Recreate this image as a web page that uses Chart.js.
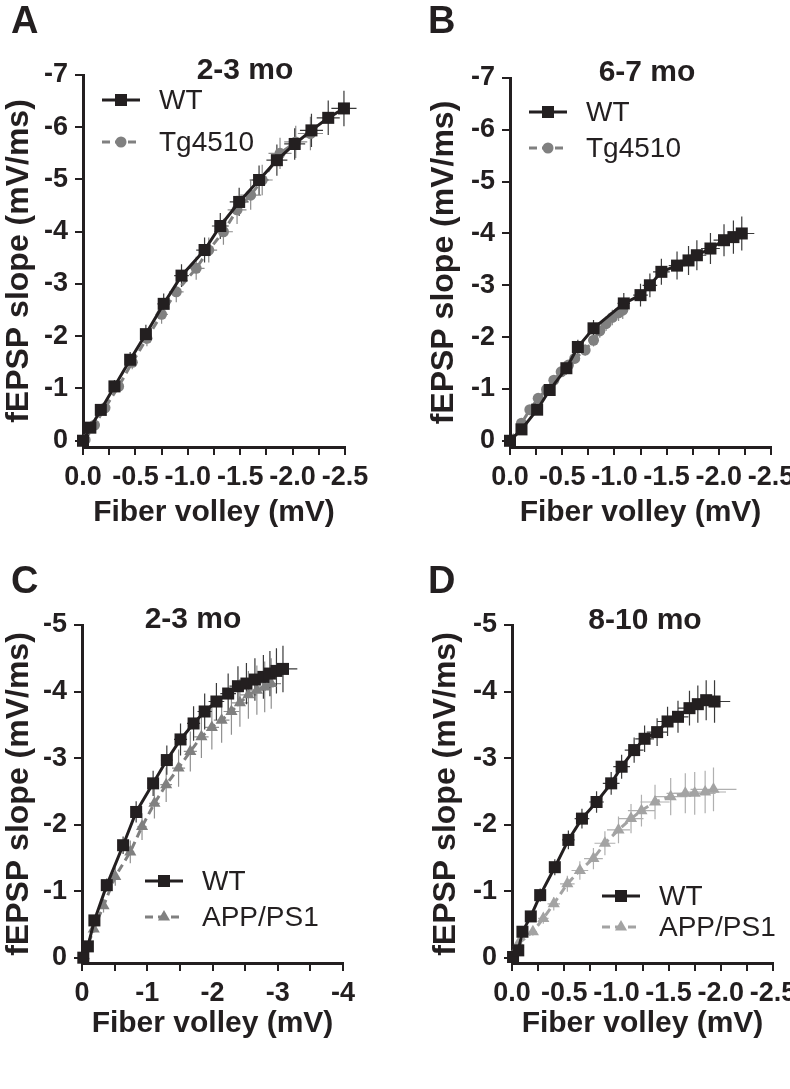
<!DOCTYPE html>
<html>
<head>
<meta charset="utf-8">
<script src="https://cdn.jsdelivr.net/npm/chart.js@4/dist/chart.umd.min.js"></script>
<style>
  html, body { margin: 0; padding: 0; background: #fff; }
  #wrap { position: relative; width: 790px; height: 1089px; background: #fff; overflow: hidden; }
  canvas { position: absolute; }
</style>
</head>
<body>
<div id="wrap">
  <canvas id="cA" style="left:0px;top:0px;width:395px;height:545px" width="395" height="545"></canvas>
  <canvas id="cB" style="left:395px;top:0px;width:395px;height:545px" width="395" height="545"></canvas>
  <canvas id="cC" style="left:0px;top:545px;width:395px;height:511px" width="395" height="511"></canvas>
  <canvas id="cD" style="left:395px;top:545px;width:395px;height:511px" width="395" height="511"></canvas>
</div>
<script>
// ---- data (fiber volley in mV, fEPSP slope in mV/ms, with SEM) ----
const panelTitles = ['2-3 mo', '6-7 mo', '2-3 mo', '8-10 mo']
const panelLetters = ['A', 'B', 'C', 'D']
const seriesNames = ['WT', 'Tg4510', 'APP/PS1']

const xLabelsHalf = ['0.0', '-0.5', '-1.0', '-1.5', '-2.0', '-2.5']
const xLabelsInt = ['0', '-1', '-2', '-3', '-4']
const yLabels = ['0', '-1', '-2', '-3', '-4', '-5', '-6', '-7']

// A: 2-3 mo, WT vs Tg4510
const aWtX = [0, -0.07, -0.17, -0.30, -0.45, -0.60, -0.77, -0.94, -1.16, -1.31, -1.49, -1.68, -1.85, -2.02, -2.18, -2.34, -2.49]
const aWtY = [0, -0.25, -0.59, -1.04, -1.55, -2.04, -2.62, -3.16, -3.65, -4.11, -4.57, -4.99, -5.37, -5.68, -5.94, -6.18, -6.36]
const aWtXErr = [0.01, 0.02, 0.03, 0.04, 0.05, 0.05, 0.06, 0.07, 0.08, 0.08, 0.09, 0.09, 0.10, 0.10, 0.11, 0.11, 0.12]
const aWtYErr = [0.02, 0.05, 0.08, 0.12, 0.15, 0.18, 0.20, 0.22, 0.24, 0.25, 0.27, 0.28, 0.30, 0.30, 0.32, 0.33, 0.34]
const aTgX = [-0.02, -0.11, -0.21, -0.34, -0.47, -0.61, -0.75, -0.89, -1.08, -1.20, -1.34, -1.47, -1.60, -1.71, -1.88, -2.03, -2.17]
const aTgY = [-0.02, -0.30, -0.63, -1.04, -1.50, -1.96, -2.42, -2.85, -3.30, -3.65, -4.00, -4.42, -4.70, -4.99, -5.50, -5.72, -5.88]
const aTgXErr = [0.01, 0.02, 0.03, 0.04, 0.05, 0.05, 0.06, 0.07, 0.08, 0.08, 0.09, 0.09, 0.10, 0.10, 0.11, 0.11, 0.12]
const aTgYErr = [0.02, 0.05, 0.07, 0.10, 0.13, 0.15, 0.18, 0.20, 0.22, 0.24, 0.25, 0.27, 0.28, 0.29, 0.30, 0.31, 0.32]

// B: 6-7 mo, WT vs Tg4510
const bWtX = [0, -0.11, -0.26, -0.38, -0.54, -0.65, -0.80, -1.09, -1.25, -1.34, -1.45, -1.60, -1.71, -1.79, -1.92, -2.05, -2.14, -2.22]
const bWtY = [0, -0.22, -0.60, -0.98, -1.40, -1.81, -2.17, -2.65, -2.81, -3.00, -3.26, -3.38, -3.48, -3.58, -3.71, -3.87, -3.93, -4.00]
const bWtXErr = [0.01, 0.02, 0.03, 0.03, 0.04, 0.04, 0.05, 0.06, 0.07, 0.07, 0.08, 0.08, 0.08, 0.09, 0.09, 0.10, 0.10, 0.12]
const bWtYErr = [0.02, 0.05, 0.08, 0.10, 0.12, 0.14, 0.16, 0.20, 0.22, 0.23, 0.25, 0.27, 0.28, 0.29, 0.30, 0.31, 0.32, 0.33]
const bTgX = [0, -0.11, -0.19, -0.27, -0.35, -0.42, -0.49, -0.56, -0.62, -0.72, -0.80, -0.86, -0.92, -0.98, -1.04, -1.08]
const bTgY = [0, -0.34, -0.60, -0.82, -0.99, -1.17, -1.33, -1.46, -1.59, -1.75, -1.94, -2.12, -2.26, -2.38, -2.47, -2.52]
const bTgXErr = [0.01, 0.01, 0.02, 0.02, 0.02, 0.03, 0.03, 0.03, 0.03, 0.04, 0.04, 0.04, 0.05, 0.05, 0.05, 0.05]
const bTgYErr = [0.02, 0.03, 0.04, 0.05, 0.06, 0.07, 0.08, 0.09, 0.10, 0.11, 0.12, 0.13, 0.14, 0.15, 0.16, 0.17]

// C: 2-3 mo, WT vs APP/PS1
const cWtX = [-0.02, -0.09, -0.19, -0.38, -0.63, -0.83, -1.09, -1.30, -1.51, -1.71, -1.88, -2.06, -2.24, -2.39, -2.52, -2.65, -2.78, -2.88, -2.98, -3.08]
const cWtY = [0, -0.17, -0.56, -1.09, -1.69, -2.19, -2.62, -2.97, -3.28, -3.52, -3.70, -3.85, -3.97, -4.08, -4.12, -4.18, -4.22, -4.27, -4.31, -4.34]
const cWtXErr = [0.01, 0.02, 0.03, 0.04, 0.06, 0.07, 0.08, 0.09, 0.10, 0.10, 0.11, 0.12, 0.12, 0.13, 0.13, 0.14, 0.14, 0.15, 0.15, 0.22]
const cWtYErr = [0.02, 0.05, 0.08, 0.10, 0.13, 0.16, 0.19, 0.22, 0.24, 0.26, 0.27, 0.28, 0.30, 0.30, 0.31, 0.32, 0.33, 0.34, 0.34, 0.35]
const cAppX = [-0.03, -0.18, -0.33, -0.51, -0.74, -0.92, -1.11, -1.29, -1.48, -1.66, -1.83, -1.99, -2.14, -2.29, -2.42, -2.55, -2.68, -2.80, -2.90]
const cAppY = [-0.03, -0.43, -0.78, -1.22, -1.59, -1.97, -2.32, -2.60, -2.85, -3.10, -3.32, -3.46, -3.57, -3.70, -3.83, -3.95, -4.02, -4.07, -4.12]
const cAppXErr = [0.01, 0.03, 0.04, 0.05, 0.06, 0.07, 0.08, 0.09, 0.10, 0.10, 0.11, 0.11, 0.12, 0.12, 0.13, 0.13, 0.14, 0.14, 0.15]
const cAppYErr = [0.02, 0.06, 0.10, 0.14, 0.17, 0.20, 0.23, 0.26, 0.28, 0.30, 0.32, 0.33, 0.34, 0.35, 0.36, 0.36, 0.37, 0.38, 0.38]

// D: 8-10 mo, WT vs APP/PS1
const dWtX = [-0.01, -0.06, -0.10, -0.18, -0.27, -0.41, -0.54, -0.67, -0.81, -0.95, -1.05, -1.17, -1.27, -1.39, -1.49, -1.59, -1.70, -1.78, -1.86, -1.94]
const dWtY = [-0.01, -0.11, -0.39, -0.62, -0.94, -1.36, -1.77, -2.09, -2.34, -2.62, -2.87, -3.12, -3.29, -3.39, -3.55, -3.62, -3.75, -3.81, -3.87, -3.85]
const dWtXErr = [0.01, 0.02, 0.03, 0.03, 0.04, 0.05, 0.06, 0.07, 0.07, 0.08, 0.08, 0.09, 0.09, 0.10, 0.10, 0.10, 0.11, 0.11, 0.12, 0.15]
const dWtYErr = [0.02, 0.04, 0.06, 0.08, 0.10, 0.12, 0.14, 0.15, 0.16, 0.17, 0.18, 0.19, 0.20, 0.21, 0.22, 0.24, 0.26, 0.28, 0.30, 0.32]
const dAppX = [-0.01, -0.06, -0.20, -0.30, -0.40, -0.53, -0.65, -0.78, -0.89, -1.02, -1.14, -1.24, -1.37, -1.52, -1.66, -1.75, -1.85, -1.93]
const dAppY = [-0.04, -0.21, -0.39, -0.59, -0.81, -1.11, -1.31, -1.49, -1.72, -1.92, -2.09, -2.21, -2.34, -2.42, -2.47, -2.47, -2.49, -2.53]
const dAppXErr = [0.01, 0.02, 0.04, 0.05, 0.06, 0.07, 0.08, 0.09, 0.10, 0.11, 0.12, 0.13, 0.14, 0.16, 0.18, 0.20, 0.20, 0.22]
const dAppYErr = [0.02, 0.04, 0.06, 0.08, 0.10, 0.12, 0.14, 0.16, 0.18, 0.20, 0.22, 0.24, 0.26, 0.28, 0.30, 0.32, 0.32, 0.33]

// ---- styling ----
const INK = '#231f20'
const FONT = '"Liberation Sans", Arial, Helvetica, sans-serif'

const toPoints = (xs, ys) => xs.map((x, i) => ({ x: x, y: ys[i] }))

const wtSet = (xs, ys, xe, ye) => ({
    label: seriesNames[0],
    data: toPoints(xs, ys),
    xErr: xe, yErr: ye, errColor: '#3a3a3a',
    showLine: true,
    borderColor: INK,
    backgroundColor: INK,
    borderWidth: 3,
    pointStyle: 'rect',
    pointRadius: 8.5,
    pointBorderWidth: 0,
    clip: false,
})

const greySet = (name, xs, ys, xe, ye, colour, errColour, style, radius) => ({
    label: name,
    data: toPoints(xs, ys),
    xErr: xe, yErr: ye, errColor: errColour,
    showLine: true,
    borderColor: colour,
    backgroundColor: colour,
    borderWidth: 3,
    borderDash: [8, 5],
    pointStyle: style,
    pointRadius: radius,
    pointBorderWidth: 0,
    clip: false,
})

// error bars (drawn under the markers)
const errorBars = {
    id: 'errorBars',
    beforeDatasetsDraw(chart) {
        const { ctx } = chart
        const x = chart.scales.x, y = chart.scales.y
        ctx.save()
        ctx.lineWidth = 1.2
        chart.data.datasets.slice().reverse().forEach(ds => {
            if (!ds.xErr) return
            ctx.strokeStyle = ds.errColor
            ds.data.forEach((p, i) => {
                const px = x.getPixelForValue(p.x)
                const py = y.getPixelForValue(p.y)
                ctx.beginPath()
                ctx.moveTo(px, y.getPixelForValue(p.y - ds.yErr[i]))
                ctx.lineTo(px, y.getPixelForValue(p.y + ds.yErr[i]))
                ctx.moveTo(x.getPixelForValue(p.x - ds.xErr[i]), py)
                ctx.lineTo(x.getPixelForValue(p.x + ds.xErr[i]), py)
                ctx.stroke()
            })
        })
        ctx.restore()
    }
}

function marker(ctx, style, r, cx, cy) {
    ctx.beginPath()
    if (style === 'rect') {
        const s = r * Math.SQRT1_2
        ctx.rect(cx - s, cy - s, 2 * s, 2 * s)
    } else if (style === 'triangle') {
        ctx.moveTo(cx, cy - r)
        ctx.lineTo(cx + r * 0.866, cy + r * 0.5)
        ctx.lineTo(cx - r * 0.866, cy + r * 0.5)
        ctx.closePath()
    } else {
        ctx.arc(cx, cy, r, 0, Math.PI * 2)
    }
    ctx.fill()
}

// panel letter, age title and line+marker legend
const decorations = {
    id: 'decorations',
    afterDraw(chart, args, opts) {
        const { ctx } = chart
        ctx.save()
        ctx.fillStyle = INK
        ctx.textAlign = 'left'
        ctx.textBaseline = 'alphabetic'
        ctx.font = 'bold 38px ' + FONT
        ctx.fillText(opts.letter, opts.letterX, opts.letterY)
        ctx.textAlign = 'center'
        ctx.textBaseline = 'middle'
        ctx.font = 'bold 30px ' + FONT
        ctx.fillText(opts.title, opts.titleX, opts.titleY)

        chart.data.datasets.forEach((ds, i) => {
            const lx = opts.legendX
            const ly = opts.legendY + i * opts.legendGap
            ctx.strokeStyle = ds.borderColor
            ctx.lineWidth = ds.borderWidth
            ctx.setLineDash(ds.borderDash || [])
            ctx.beginPath()
            ctx.moveTo(lx, ly)
            ctx.lineTo(lx + 38, ly)
            ctx.stroke()
            ctx.setLineDash([])
            ctx.fillStyle = ds.backgroundColor
            marker(ctx, ds.pointStyle, ds.pointRadius, lx + 19, ly)
            ctx.fillStyle = INK
            ctx.textAlign = 'left'
            ctx.font = '28px ' + FONT
            ctx.fillText(ds.label, lx + 57, ly + 1)
        })
        ctx.restore()
    }
}

function makePanel(id, datasets, cfg) {
    const labelX = cfg.intTicks ? xLabelsInt : xLabelsHalf
    const ctx = document.getElementById(id).getContext('2d')
    return new Chart(ctx, {
        type: 'scatter',
        data: { datasets: datasets },
        plugins: [errorBars, decorations],
        options: {
            responsive: false,
            animation: false,
            events: [],
            layout: { padding: cfg.padding },
            plugins: {
                legend: { display: false },
                tooltip: { enabled: false },
                decorations: cfg.deco,
            },
            scales: {
                x: {
                    type: 'linear',
                    reverse: true,
                    min: cfg.xMin,
                    max: 0,
                    afterFit: s => { s.height = cfg.xHeight; s.paddingLeft = 0; s.paddingRight = 0 },
                    border: { display: true, color: INK, width: 3 },
                    grid: { drawOnChartArea: false, drawTicks: true, tickLength: 8, color: INK, lineWidth: 2 },
                    ticks: {
                        stepSize: cfg.xStep,
                        includeBounds: false,
                        autoSkip: false,
                        maxRotation: 0,
                        minRotation: 0,
                        padding: 6,
                        color: INK,
                        font: { family: FONT, size: 27, weight: 'bold' },
                        callback: v => {
                            const k = cfg.intTicks ? -v : -v * 2
                            return Math.abs(k - Math.round(k)) < 1e-6 ? labelX[Math.round(k)] : ''
                        }
                    },
                    title: {
                        display: true,
                        text: 'Fiber volley (mV)',
                        color: INK,
                        font: { family: FONT, size: 30, weight: 'bold' },
                        padding: { top: 0, bottom: 14 }
                    }
                },
                y: {
                    type: 'linear',
                    reverse: true,
                    min: cfg.yMin,
                    max: cfg.yMax,
                    afterFit: s => { s.width = cfg.yWidth },
                    border: { display: true, color: INK, width: 3 },
                    grid: { drawOnChartArea: false, drawTicks: true, tickLength: 8, color: INK, lineWidth: 2 },
                    ticks: {
                        stepSize: 1,
                        includeBounds: false,
                        padding: 7,
                        color: INK,
                        font: { family: FONT, size: 27, weight: 'bold' },
                        callback: v => {
                            const k = Math.round(-v)
                            return Math.abs(-v - k) < 1e-6 ? yLabels[k] : ''
                        }
                    },
                    title: {
                        display: true,
                        text: 'fEPSP slope (mV/ms)',
                        color: INK,
                        font: { family: FONT, size: 32, weight: 'bold' },
                        padding: { top: 0, bottom: 0 }
                    }
                }
            }
        }
    })
}

makePanel('cA', [
    wtSet(aWtX, aWtY, aWtXErr, aWtYErr),
    greySet(seriesNames[1], aTgX, aTgY, aTgXErr, aTgYErr, '#808080', '#8c8c8c', 'circle', 5.5),
], {
    padding: { left: 0, top: 75, right: 50, bottom: 0 },
    yWidth: 83, xHeight: 98, xMin: -2.5, xStep: 0.25, yMin: -7, yMax: 0.12,
    deco: { letter: panelLetters[0], letterX: 11, letterY: 33, title: panelTitles[0], titleX: 245, titleY: 71,
            legendX: 102, legendY: 100, legendGap: 42 }
})

makePanel('cB', [
    wtSet(bWtX, bWtY, bWtXErr, bWtYErr),
    greySet(seriesNames[1], bTgX, bTgY, bTgXErr, bTgYErr, '#808080', '#8c8c8c', 'circle', 5.5),
], {
    padding: { left: 30, top: 78, right: 19, bottom: 0 },
    yWidth: 85, xHeight: 98, xMin: -2.5, xStep: 0.25, yMin: -7, yMax: 0.12,
    deco: { letter: panelLetters[1], letterX: 33, letterY: 33, title: panelTitles[1], titleX: 252, titleY: 73,
            legendX: 134, legendY: 112, legendGap: 36 }
})

makePanel('cC', [
    wtSet(cWtX, cWtY, cWtXErr, cWtYErr),
    greySet(seriesNames[2], cAppX, cAppY, cAppXErr, cAppYErr, '#808080', '#909090', 'triangle', 7),
], {
    padding: { left: 0, top: 80, right: 52, bottom: 0 },
    yWidth: 82, xHeight: 93, xMin: -4, xStep: 0.5, intTicks: true, yMin: -5, yMax: 0.08,
    deco: { letter: panelLetters[2], letterX: 11, letterY: 48, title: panelTitles[2], titleX: 193, titleY: 75,
            legendX: 145, legendY: 336, legendGap: 36 }
})

makePanel('cD', [
    wtSet(dWtX, dWtY, dWtXErr, dWtYErr),
    greySet(seriesNames[2], dAppX, dAppY, dAppXErr, dAppYErr, '#a3a3a3', '#b0b0b0', 'triangle', 7),
], {
    padding: { left: 32, top: 80, right: 17, bottom: 0 },
    yWidth: 85, xHeight: 93, xMin: -2.5, xStep: 0.25, yMin: -5, yMax: 0.08,
    deco: { letter: panelLetters[3], letterX: 33, letterY: 48, title: panelTitles[3], titleX: 250, titleY: 76,
            legendX: 207, legendY: 351, legendGap: 31 }
})
</script>
</body>
</html>
